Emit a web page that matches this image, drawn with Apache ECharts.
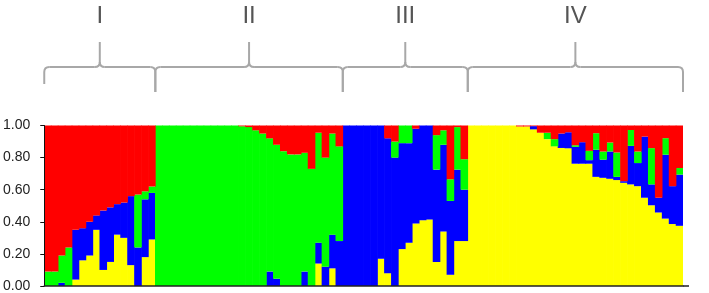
<!DOCTYPE html>
<html><head><meta charset="utf-8">
<script src="https://cdn.jsdelivr.net/npm/echarts@6/dist/echarts.min.js"></script>
<style>html,body{margin:0;padding:0;background:#fff}#c{width:709px;height:293px}</style>
</head><body><div id="c"></div>
<script>
// Populations and their number of individuals (sorted STRUCTURE plot, K = 4)
const groupNames = ['I', 'II', 'III', 'IV'];
const groupSizes = [16, 27, 18, 31];
// Y-axis tick labels
const yTicks = [0, 0.2, 0.4, 0.6, 0.8, 1.0];

// Membership coefficients per individual, stacked bottom-to-top: yellow, blue, green, red
const yellow = [
  0,0,0,0,0.04,0.16,0.19,0.35,0.10,0.15,0.32,0.30,0.13,0,0.18,0.29,
  0,0,0,0,0,0,0,0,0,0,0,0,0,0,0,0,0,0,0,0,0,0,0,0.14,0,0.11,0,
  0,0,0,0,0,0.17,0.08,0,0.23,0.27,0.39,0.41,0.415,0.15,0.34,0.07,0.28,0.28,
  1,1,1,1,1,1,1,0.994,0.994,0.976,0.955,0.915,0.87,0.86,0.858,0.762,0.762,0.762,0.68,0.674,0.668,0.66,0.643,0.633,0.622,0.55,0.503,0.458,0.42,0.386,0.375
];
const blue = [
  0,0,0.02,0,0.31,0.20,0.21,0.09,0.37,0.34,0.19,0.22,0.43,0.24,0.36,0.29,
  0,0,0,0,0,0,0,0,0,0,0,0,0,0,0,0,0.09,0.045,0,0,0,0.09,0,0.13,0.12,0.21,0.28,
  1,1,1,1,1,0.83,0.84,0.80,0.66,0.62,0.59,0.59,0.585,0.575,0.54,0.46,0.445,0.32,
  0,0,0,0,0,0,0,0,0,0.02,0,0,0,0.09,0.10,0.105,0.134,0.022,0.169,0.113,0.17,0.02,0.01,0.24,0.144,0.381,0.13,0.092,0.398,0.236,0.319
];
const green = [
  0.09,0.09,0.17,0.24,0,0,0,0,0,0,0,0,0,0.33,0.05,0.04,
  1,1,1,1,1,1,1,1,1,1,1,1,0.995,0.99,0.97,0.95,0.83,0.835,0.84,0.82,0.82,0.74,0.73,0.685,0.68,0.63,0.59,
  0,0,0,0,0,0,0,0.10,0.11,0.11,0,0,0,0.215,0.09,0.135,0.265,0.19,
  0,0,0,0,0,0,0,0,0,0,0,0.04,0.045,0,0,0.01,0,0.058,0.103,0.051,0.056,0.152,0,0.099,0.072,0,0.226,0,0.103,0,0.041
];
const red = [
  0.91,0.91,0.81,0.76,0.65,0.64,0.60,0.56,0.53,0.51,0.49,0.48,0.44,0.43,0.41,0.38,
  0,0,0,0,0,0,0,0,0,0,0,0,0.005,0.01,0.03,0.05,0.08,0.12,0.16,0.18,0.18,0.17,0.27,0.045,0.20,0.05,0.13,
  0,0,0,0,0,0,0.08,0.10,0,0,0.02,0,0,0.06,0.03,0.335,0.01,0.21,
  0,0,0,0,0,0,0,0.006,0.006,0.004,0.045,0.045,0.085,0.05,0.042,0.123,0.104,0.158,0.048,0.162,0.106,0.168,0.347,0.028,0.162,0.069,0.141,0.45,0.079,0.378,0.265
];

const categories = [];
groupNames.forEach((g, gi) => { for (let k = 1; k <= groupSizes[gi]; k++) categories.push(g + '-' + k); });

const chart = echarts.init(document.getElementById('c'), null, { renderer: 'canvas' });
function mk(name, data, color) {
  return {
    name, type: 'bar', stack: 'q', data, barWidth: 7.6, barGap: '-100%',
    itemStyle: { color, borderWidth: 0 }, emphasis: { disabled: true }, clip: true
  };
}
chart.setOption({
  animation: false,
  backgroundColor: '#fff',
  grid: { left: 43, right: 26, top: 125.5, bottom: 5 },
  xAxis: {
    type: 'category', data: categories, boundaryGap: true, z: 5,
    axisLine: { show: true, lineStyle: { color: '#222', width: 1.5 } },
    axisTick: { show: false }, axisLabel: { show: false }, splitLine: { show: false }
  },
  yAxis: {
    type: 'value', min: yTicks[0], max: yTicks[yTicks.length - 1], interval: 0.2, z: 5,
    axisLine: { show: true, lineStyle: { color: '#111', width: 1 } },
    axisTick: { show: true, length: 4, lineStyle: { color: '#111' } },
    axisLabel: { formatter: v => v.toFixed(2), fontSize: 14, color: '#222', margin: 14, fontFamily: 'Liberation Sans, Arial, sans-serif' },
    splitLine: { show: false }
  },
  series: [
    mk('yellow', yellow, '#ffff00'),
    mk('blue', blue, '#0000ff'),
    mk('green', green, '#00ff00'),
    mk('red', red, '#ff0000')
  ]
});

// Braces and population labels, positioned from the category axis
const px = i => chart.convertToPixel({ xAxisIndex: 0 }, i);
const w = px(1) - px(0);
const y0 = chart.convertToPixel({ yAxisIndex: 0 }, 0);
const stroke = '#a8a8a8', lw = 2, r = 5;
const yH = 67, yTip = 42;
const els = [];
function L(x1, y1, x2, y2) { els.push({ type: 'line', silent: true, shape: { x1, y1, x2, y2 }, style: { stroke, lineWidth: lw } }); }
function Q(x1, y1, cx, cy, x2, y2) { els.push({ type: 'bezierCurve', silent: true, shape: { x1, y1, x2, y2, cpx1: cx, cpy1: cy }, style: { stroke, lineWidth: lw, fill: null } }); }
let start = 0;
groupSizes.forEach((n, gi) => {
  const x0 = px(start) - w / 2, x1 = px(start + n - 1) + w / 2, xc = (x0 + x1) / 2;
  const e0 = gi === 0 ? 84 : 92, e1 = 92;
  L(x0, e0, x0, yH + r); Q(x0, yH + r, x0, yH, x0 + r, yH); L(x0 + r, yH, xc - r, yH);
  Q(xc - r, yH, xc, yH, xc, yH - r); L(xc, yH - r, xc, yTip); Q(xc, yH - r, xc, yH, xc + r, yH);
  L(xc + r, yH, x1 - r, yH); Q(x1 - r, yH, x1, yH, x1, yH + r); L(x1, yH + r, x1, e1);
  els.push({ type: 'text', silent: true, x: xc, y: 16, style: { text: groupNames[gi], fill: '#555', fontSize: 24, fontFamily: 'Liberation Sans, Arial, sans-serif', align: 'center', verticalAlign: 'middle' } });
  start += n;
});
const xr = px(categories.length - 1) + w / 2;
els.push({ type: 'line', silent: true, shape: { x1: xr, y1: y0, x2: xr + 6, y2: y0 }, style: { stroke: '#222', lineWidth: 1.5 } });
chart.setOption({ graphic: { elements: els } });
</script>
</body></html>
